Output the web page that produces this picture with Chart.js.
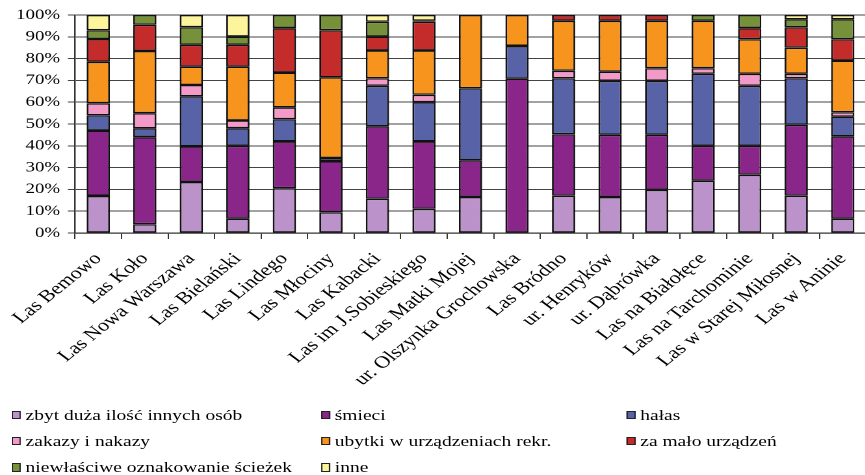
<!DOCTYPE html>
<html>
<head>
<meta charset="utf-8">
<script src="https://cdn.jsdelivr.net/npm/chart.js@4"></script>
<style>
  body { margin: 0; background: #fff; }
  #clip { position: relative; width: 865px; height: 475px; overflow: hidden; }
  /* the original figure is stretched sideways, so draw narrow and stretch */
  #stretch { position: absolute; left: 0; top: 0; width: 673px; height: 475px; transform: scaleX(1.3); transform-origin: 0 0; }
  #chartBox { position: absolute; left: 0; top: 0; width: 673px; height: 475px; }
  #legend { position: absolute; left: 0; top: 0; font-family: "Liberation Serif", "Times New Roman", serif; font-size: 15px; color: #000; }
  .item { position: absolute; height: 20px; display: flex; align-items: center; white-space: nowrap; }
  .box { position: absolute; top: 5.5px; width: 5px; height: 6.5px; border: 1.2px solid #222; }
</style>
</head>
<body>
<div id="clip">
  <div id="stretch">
    <div id="chartBox"><canvas id="myChart"></canvas></div>
    <div id="legend"></div>
  </div>
</div>
<script>
var labels = ["Las Bemowo","Las Koło","Las Nowa Warszawa","Las Bielański","Las Lindego","Las Młociny","Las Kabacki","Las im J.Sobieskiego","Las Matki Mojej","ur. Olszynka Grochowska","Las Bródno","ur. Henryków","ur. Dąbrówka","Las na Białołęce","Las na Tarchominie","Las w Starej Miłosnej","Las w Aninie"];

var zbytDuzo   = [17, 4, 23.4, 6.6, 20.6, 9.5, 15.7, 11.1, 16.5, 0, 17.1, 16.5, 19.8, 24, 26.7, 17.1, 6.6];
var smieci     = [30, 40, 16.3, 33.4, 21.4, 23.5, 33.2, 30.9, 16.8, 70.8, 28.2, 28.5, 25.2, 16, 13.3, 32.5, 37.7];
var halas      = [7, 4, 23, 8.1, 10.2, 1.4, 18.6, 18, 33.1, 15, 25.7, 24.8, 24.8, 33, 27.5, 21.4, 9.1];
var zakazy     = [5.5, 7, 5.2, 3.5, 5.4, 0, 3.5, 3.4, 0, 0, 3.4, 4.2, 5.8, 2.6, 5.5, 2, 2];
var ubytki     = [19, 28.5, 8.4, 24.7, 16, 37, 12.7, 20.3, 33.6, 14.2, 22.9, 23.3, 21.7, 21.7, 15.9, 12, 23.7];
var zaMalo     = [10.5, 12, 10, 10, 20.4, 21.6, 6.4, 13.2, 0, 0, 2.7, 2.7, 2.7, 0, 5.1, 9.4, 9.8];
var oznakowanie= [4, 4.5, 8.1, 3.8, 6, 7, 6.8, 0.5, 0, 0, 0, 0, 0, 2.7, 6, 3.6, 9.1];
var inne       = [7, 0, 5.6, 9.9, 0, 0, 3.1, 2.6, 0, 0, 0, 0, 0, 0, 0, 2, 2];

var seriesNames = ["zbyt duża ilość innych osób","śmieci","hałas","zakazy i nakazy","ubytki w urządzeniach rekr.","za mało urządzeń","niewłaściwe oznakowanie ścieżek","inne"];
var seriesData = [zbytDuzo, smieci, halas, zakazy, ubytki, zaMalo, oznakowanie, inne];
var colors = ['#bb92c9','#8a2589','#5763a6','#f49ac8','#f7941d','#c42b2b','#76913a','#fdf59b'];

var datasets = seriesData.map(function (d, i) {
    return {
        label: seriesNames[i],
        data: d,
        backgroundColor: colors[i],
        borderColor: '#111',
        borderWidth: 1.4,
        borderSkipped: false,
        barPercentage: 0.5,
        categoryPercentage: 1.0
    };
});

var serif = "'Liberation Serif', 'Times New Roman', serif";

var ctx = document.getElementById('myChart').getContext('2d');
var myChart = new Chart(ctx, {
    type: 'bar',
    data: { labels: labels, datasets: datasets },
    options: {
        responsive: true,
        maintainAspectRatio: false,
        animation: false,
        devicePixelRatio: 2,
        layout: { padding: { top: 15, right: 2, left: 0, bottom: 0 } },
        plugins: { legend: { display: false }, tooltip: { enabled: false } },
        scales: {
            x: {
                stacked: true,
                offset: true,
                afterFit: function (scale) { scale.height = 242; },
                grid: { display: true, drawOnChartArea: false, drawTicks: true, tickLength: 6, color: '#333', offset: true },
                border: { color: '#333', width: 1.3 },
                ticks: { color: '#000', font: { family: serif, size: 17 }, maxRotation: 46, minRotation: 46, autoSkip: false, padding: 10 }
            },
            y: {
                stacked: true,
                min: 0,
                max: 100,
                afterFit: function (scale) { scale.width = 57.7; },
                grid: { color: '#444', lineWidth: 1, tickLength: 5.5 },
                border: { color: '#333', width: 1.2 },
                ticks: { stepSize: 10, color: '#000', font: { family: serif, size: 14.5 }, padding: 6,
                    callback: function (v) { return v + '%'; } }
            }
        }
    }
});

// legend: three columns, three rows (positions before the 1.3 stretch)
var legendEl = document.getElementById('legend');
var boxX = [9.2, 247, 482];
var rowY = [405, 431, 457.5];
seriesNames.forEach(function (name, i) {
    var div = document.createElement('div');
    div.className = 'item';
    div.style.left = boxX[i % 3] + 'px';
    div.style.top = rowY[Math.floor(i / 3)] + 'px';
    div.style.paddingLeft = '10.5px';
    div.innerHTML = '<span class="box" style="left:0;background:' + colors[i] + '"></span>' + name;
    legendEl.appendChild(div);
});
</script>
</body>
</html>
